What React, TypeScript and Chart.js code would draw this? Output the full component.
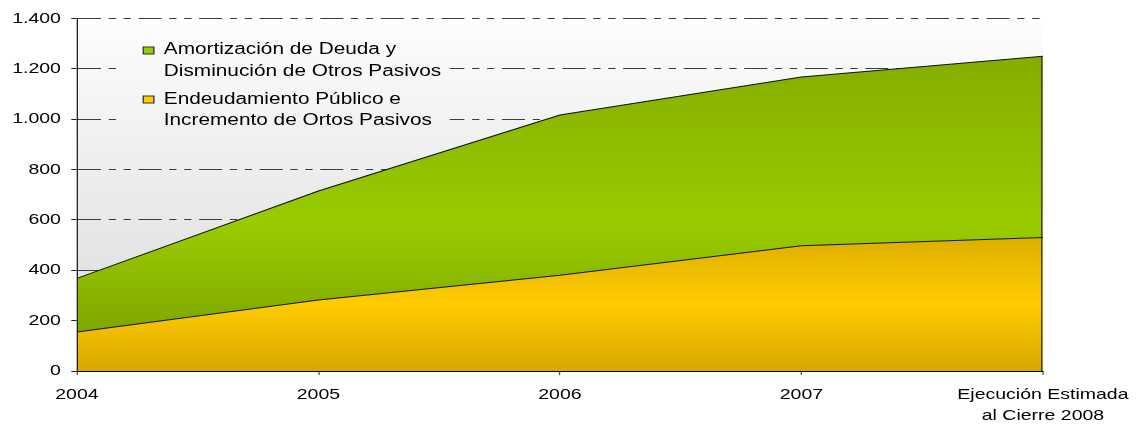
import React, { useEffect, useRef } from 'react';
import { Chart, registerables } from 'chart.js';

Chart.register(...registerables);

// ---------- data ----------
const years: (string | string[])[] = ['2004', '2005', '2006', '2007', ['Ejecución Estimada', 'al Cierre 2008']];
const endeudamientoValues = [155, 282, 380, 497, 530];
const amortizacionValues = [213, 433, 637, 671, 720];
const endeudamientoLegend = ['Endeudamiento Público e', 'Incremento de Ortos Pasivos'];
const amortizacionLegend = ['Amortización de Deuda y', 'Disminución de Otros Pasivos'];
const yMin = 0;
const yMax = 1400;
const yStep = 200;

// ---------- layout / style ----------
const OUT_W = 1136;
const OUT_H = 426;
const LOGICAL_W = 874; // the reference is horizontally stretched
const FONT = '"Liberation Sans", Arial, Helvetica, sans-serif';

const fmt = (v: number) => String(v).replace(/\B(?=(\d{3})+(?!\d))/g, '.');

function bgGradient(chart: any) {
  const { ctx, chartArea } = chart;
  const g = ctx.createLinearGradient(0, chartArea.top, 0, chartArea.bottom);
  g.addColorStop(0, '#fdfdfd');
  g.addColorStop(1, '#d9d9d9');
  return g;
}

function areaGradient(context: any, stops: [number, string][], fallback: string) {
  const chart = context.chart;
  const { ctx, chartArea, scales } = chart;
  if (!chartArea || !scales || !scales.y) return fallback;
  const y0 = scales.y.getPixelForValue(stops[0][0]);
  const y1 = scales.y.getPixelForValue(stops[stops.length - 1][0]);
  const g = ctx.createLinearGradient(0, y0, 0, y1);
  stops.forEach(([v, c]) => {
    const p = scales.y.getPixelForValue(v);
    g.addColorStop(Math.min(1, Math.max(0, (p - y0) / (y1 - y0))), c);
  });
  return g;
}

const backgroundPlugin = {
  id: 'plotBackground',
  beforeDraw(chart: any) {
    const { ctx, chartArea } = chart;
    ctx.save();
    ctx.fillStyle = '#ffffff';
    ctx.fillRect(0, 0, chart.width, chart.height);
    ctx.fillStyle = bgGradient(chart);
    ctx.fillRect(chartArea.left, chartArea.top, chartArea.right - chartArea.left, chartArea.bottom - chartArea.top);
    ctx.restore();
  },
};

const legendPlugin = {
  id: 'innerLegend',
  beforeDatasetsDraw(chart: any) {
    const { ctx } = chart;
    ctx.save();
    // legend box hides the grid lines behind it
    ctx.fillStyle = bgGradient(chart);
    ctx.fillRect(90.8, 29, 346 - 90.8, 132 - 29);
    const items = [...chart.data.datasets].reverse();
    const squareY = [47, 96];
    const baselines = [[54, 75.5], [104, 124.5]];
    ctx.font = `16px ${FONT}`;
    ctx.textBaseline = 'alphabetic';
    ctx.textAlign = 'left';
    items.forEach((ds: any, i: number) => {
      ctx.fillStyle = ds.legendColor;
      ctx.fillRect(110.2, squareY[i], 8.2, 7);
      ctx.strokeStyle = '#333333';
      ctx.lineWidth = 1;
      ctx.strokeRect(110.2, squareY[i], 8.2, 7);
      ctx.fillStyle = '#000000';
      (ds.legendLines as string[]).forEach((line, j) => {
        ctx.fillText(line, 126, baselines[i][j]);
      });
    });
    ctx.restore();
  },
};

const rightEdgePlugin = {
  id: 'rightEdge',
  afterDatasetsDraw(chart: any) {
    const meta = chart.getDatasetMeta(1);
    const last = meta.data[meta.data.length - 1];
    if (!last) return;
    const { ctx, scales } = chart;
    const yb = scales.y.getPixelForValue(0);
    ctx.save();
    ctx.strokeStyle = '#3a3a3a';
    ctx.lineWidth = 1;
    ctx.beginPath();
    ctx.moveTo(Math.round(last.x) - 0.5, last.y);
    ctx.lineTo(Math.round(last.x) - 0.5, yb);
    ctx.stroke();
    ctx.restore();
  },
};

export default function App() {
  const ref = useRef<HTMLCanvasElement>(null);

  useEffect(() => {
    document.body.style.margin = '0';
    document.body.style.overflow = 'hidden';
    const canvas = ref.current;
    if (!canvas) return;
    Chart.defaults.font.family = FONT;

    const chart = new Chart(canvas, {
      type: 'line',
      data: {
        labels: years,
        datasets: [
          {
            label: endeudamientoLegend.join(' '),
            legendLines: endeudamientoLegend,
            legendColor: '#ffcc00',
            data: endeudamientoValues,
            fill: 'origin',
            borderColor: '#111111',
            borderWidth: 1,
            pointRadius: 0,
            tension: 0,
            backgroundColor: (c: any) =>
              areaGradient(c, [[530, '#ddae00'], [270, '#ffcc00'], [0, '#d9a700']], '#ffcc00'),
          } as any,
          {
            label: amortizacionLegend.join(' '),
            legendLines: amortizacionLegend,
            legendColor: '#99cc00',
            data: amortizacionValues,
            fill: '-1',
            borderColor: '#111111',
            borderWidth: 1,
            pointRadius: 0,
            tension: 0,
            backgroundColor: (c: any) =>
              areaGradient(c, [[1250, '#84ad00'], [580, '#99cc00'], [150, '#7ea600']], '#99cc00'),
          } as any,
        ],
      },
      options: {
        responsive: false,
        animation: false,
        events: [],
        layout: { padding: { top: 18.5, right: 71.6, left: 0, bottom: 0 } },
        plugins: { legend: { display: false }, tooltip: { enabled: false } },
        scales: {
          x: {
            type: 'category',
            offset: false,
            grid: { drawOnChartArea: false, drawTicks: true, tickLength: 4, tickColor: '#555555', tickWidth: 1 },
            border: { display: true, color: '#000000', width: 1, z: 1 },
            ticks: {
              color: '#000000',
              font: { size: 15, lineHeight: 1.4 },
              padding: 9,
              maxRotation: 0,
              autoSkip: false,
            },
            afterFit: (s: any) => {
              s.height = 55;
              s.paddingLeft = 0;
              s.paddingRight = 0;
            },
          },
          y: {
            stacked: true,
            min: yMin,
            max: yMax,
            ticks: {
              stepSize: yStep,
              color: '#000000',
              font: { size: 15 },
              padding: 7.9,
              callback: (v: any) => fmt(Number(v)),
            },
            grid: { color: '#3c3c3c', lineWidth: 1, drawTicks: true, tickLength: 4.4, tickColor: '#222222' },
            border: { display: true, color: '#222222', width: 1, z: 1, dash: [17.7, 5.9, 5.6, 5.9, 5.6, 5.9] },
            afterFit: (s: any) => {
              s.width = 59.2;
            },
          },
        },
      } as any,
      plugins: [backgroundPlugin, legendPlugin, rightEdgePlugin],
    });

    // stretch the drawing horizontally like the reference
    canvas.width = OUT_W;
    canvas.height = OUT_H;
    const ctx = canvas.getContext('2d');
    if (ctx) ctx.setTransform(OUT_W / LOGICAL_W, 0, 0, 1, 0, 0);
    chart.draw();

    return () => {
      chart.destroy();
    };
  }, []);

  return (
    <canvas
      ref={ref}
      width={LOGICAL_W}
      height={OUT_H}
      style={{ display: 'block', width: OUT_W + 'px', height: OUT_H + 'px' }}
    />
  );
}
